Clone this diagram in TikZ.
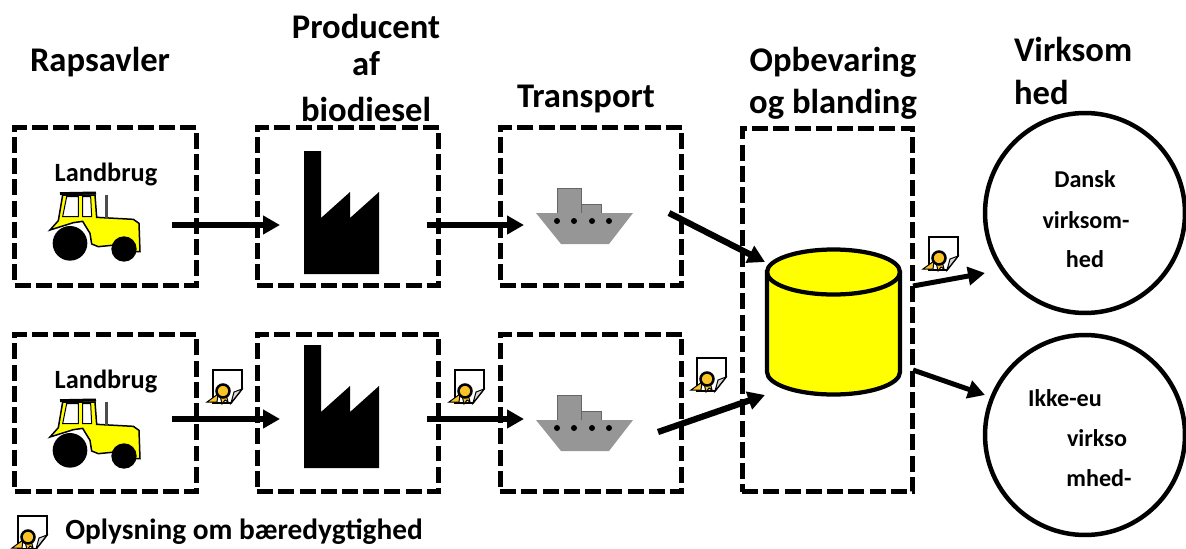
\documentclass[tikz,border=0pt]{standalone}
\usepackage{fontspec}
\setmainfont{Carlito}
\usetikzlibrary{arrows.meta}
\definecolor{tractoryellow}{RGB}{255,255,0}
\definecolor{shipgray}{RGB}{150,150,150}
\definecolor{sealgold}{RGB}{250,195,40}
\tikzset{
  x=0.02cm, y=-0.02cm,
  stage/.style={draw, line width=0.1cm, dash pattern=on 0.32cm off 0.105cm, minimum width=3.64cm, minimum height=3.16cm, inner sep=0pt},
  flow/.style={line width=0.125cm, -{Triangle[length=0.34cm, width=0.36cm]}},
  thinflow/.style={line width=0.1cm, -{Triangle[length=0.34cm, width=0.36cm]}},
  heading/.style={font=\bfseries\fontsize{19.7}{24}\selectfont, align=center},
  inner/.style={font=\bfseries\fontsize{13.75}{16}\selectfont},
  farmlabel/.style={font=\bfseries\fontsize{15}{18}\selectfont},
  party/.style={draw, circle, line width=0.09cm, minimum size=4cm},
  tractor/.pic={
    \begin{scope}[scale=1/3, shift={(-171,-144)}]
      \filldraw[fill=tractoryellow, line width=0.03cm] (30,150) -- (55,122) -- (68,45) -- (165,45) -- (170,112) -- (280,118) -- (297,130) -- (300,215) -- (285,215) -- (270,190) -- (225,195) -- (175,200) -- (155,192) -- (150,160) -- (128,124) -- (100,128) -- cycle;
      \filldraw[fill=white, line width=0.02cm] (80,50) -- (115,50) -- (115,110) -- (68,110) -- cycle;
      \filldraw[fill=white, line width=0.02cm] (128,50) -- (152,50) -- (155,110) -- (128,110) -- cycle;
      \draw[line width=0.06cm] (60,41) -- (168,39);
      \fill[black!70] (195,45) rectangle (204,115);
      \fill[black] (90,190) circle (52);
      \fill[black] (252,207) circle (38);
    \end{scope}
  },
  factory/.pic={
    \fill[black] (-39,-74) -- (-22,-74) -- (-22,-7) -- (7,-33) -- (7,-7) -- (36,-33) -- (36,49) -- (-39,49) -- cycle;
  },
  ship/.pic={
    \fill[shipgray] (-28,-37) rectangle (-4,-12);
    \fill[shipgray] (-4,-21) rectangle (16,-12);
    \draw[line width=0.01cm, black!60] (-28,-12) -- (-28,-37) -- (-4,-37) -- (-4,-12) (-4,-21) -- (16,-21) -- (16,-12);
    \fill[shipgray] (-49,-12) -- (48,-12) -- (24,19) -- (-24,19) -- cycle;
    \foreach \px in {-28,-11,7,24} \fill[black] (\px,-4) circle (3);
  },
  certicon/.pic={
    \filldraw[fill=white, line width=0.035cm] (-15,-15) -- (14,-15) -- (14,4) -- (3,18) -- (-15,18) -- cycle;
    \filldraw[fill=black!15, line width=0.02cm] (14,4) -- (6,7) -- (3,18) -- cycle;
    \filldraw[fill=sealgold, line width=0.02cm] (-10,9) -- (-21,17) -- (-11,17) -- cycle;
    \filldraw[fill=sealgold, line width=0.02cm] (-8,10) -- (-6,19) -- (-3,15) -- (0,17) -- (-2,9) -- cycle;
    \filldraw[fill=sealgold, line width=0.05cm] (-5,6) circle (6.5);
  }
}
\begin{document}
\begin{tikzpicture}
  \useasboundingbox (0,0) rectangle (1186,548);
  % top row
  \node[stage] (farmA) at (105.5,206.5) {};
  \node[stage] (plantA) at (348,206.5) {};
  \node[stage] (shipA) at (591,206.5) {};
  % bottom row
  \node[stage] (farmB) at (105.5,413) {};
  \node[stage] (plantB) at (348,413) {};
  \node[stage] (shipB) at (591,413) {};
  \node[stage, minimum width=3.42cm, minimum height=7.28cm] (depot) at (827.5,310) {};

  \node[party] (firmA) at (1085,213) {};
  \node[party] (firmB) at (1085,435) {};

  \node[heading] (t1) at (100,62) {Rapsavler};
  \node[heading, text width=4cm] (t2) at (366,68) {Producent\\[-3pt]af\\[2pt]biodiesel};
  \node[heading] (t3) at (586,99) {Transport};
  \node[heading] (t4) at (833,83) {Opbevaring\\og blanding};
  \node[heading, align=left, text width=3.2cm] (t5) at (1094,71) {Virksom\\hed};

  \node[farmlabel] (l1) at (106,174) {Landbrug};
  \node[farmlabel] (l2) at (106,381) {Landbrug};
  \node[inner] (d1) at (1085,179) {Dansk};
  \node[inner] (d2) at (1086,220) {virksom-};
  \node[inner] (d3) at (1085,259) {hed};
  \node[inner] (e1) at (1065,398) {Ikke-eu};
  \node[inner] (e2) at (1097,438) {virkso};
  \node[inner] (e3) at (1099,478) {mhed-};

  \pic at (97,228) {tractor};
  \pic at (97,435) {tractor};
  \pic at (343,225) {factory};
  \pic at (343,419) {factory};
  \pic at (585,225) {ship};
  \pic at (585,432) {ship};

  % storage tank
  \filldraw[fill=tractoryellow, line width=0.085cm] (767,272) -- (767,372) arc[start angle=180, end angle=0, x radius=66.5, y radius=22.5] -- (900,272) arc[start angle=0, end angle=-180, x radius=66.5, y radius=22.5] -- cycle;
  \draw[line width=0.085cm] (767,272) arc[start angle=180, end angle=0, x radius=66.5, y radius=22.5];

  \coordinate (a1) at (172,225); \coordinate (a2) at (280,225);
  \coordinate (b1) at (427,225); \coordinate (b2) at (524,225);
  \coordinate (c1) at (669,213); \coordinate (c2) at (765,262);
  \coordinate (f1) at (172,419); \coordinate (f2) at (280,419);
  \coordinate (g1) at (427,419); \coordinate (g2) at (524,419);
  \coordinate (h1) at (658,432); \coordinate (h2) at (765,395);
  \coordinate (i1) at (913,286); \coordinate (i2) at (985,273);
  \coordinate (j1) at (913,370); \coordinate (j2) at (985,395);
  \foreach \p/\q in {a1/a2,b1/b2,c1/c2,f1/f2,g1/g2,h1/h2}
    \draw[flow] (\p) -- (\q);
  \foreach \p/\q in {i1/i2,j1/j2}
    \draw[thinflow] (\p) -- (\q);

  \pic at (228,385) {certicon};
  \pic at (470,385) {certicon};
  \pic at (712,373) {certicon};
  \pic at (944,252) {certicon};
  \pic at (33,531) {certicon};

  \node[font=\bfseries\fontsize{16.7}{20}\selectfont, anchor=west, inner sep=0pt] (legend) at (65,532) {Oplysning om bæredygtighed};
\end{tikzpicture}
\end{document}
